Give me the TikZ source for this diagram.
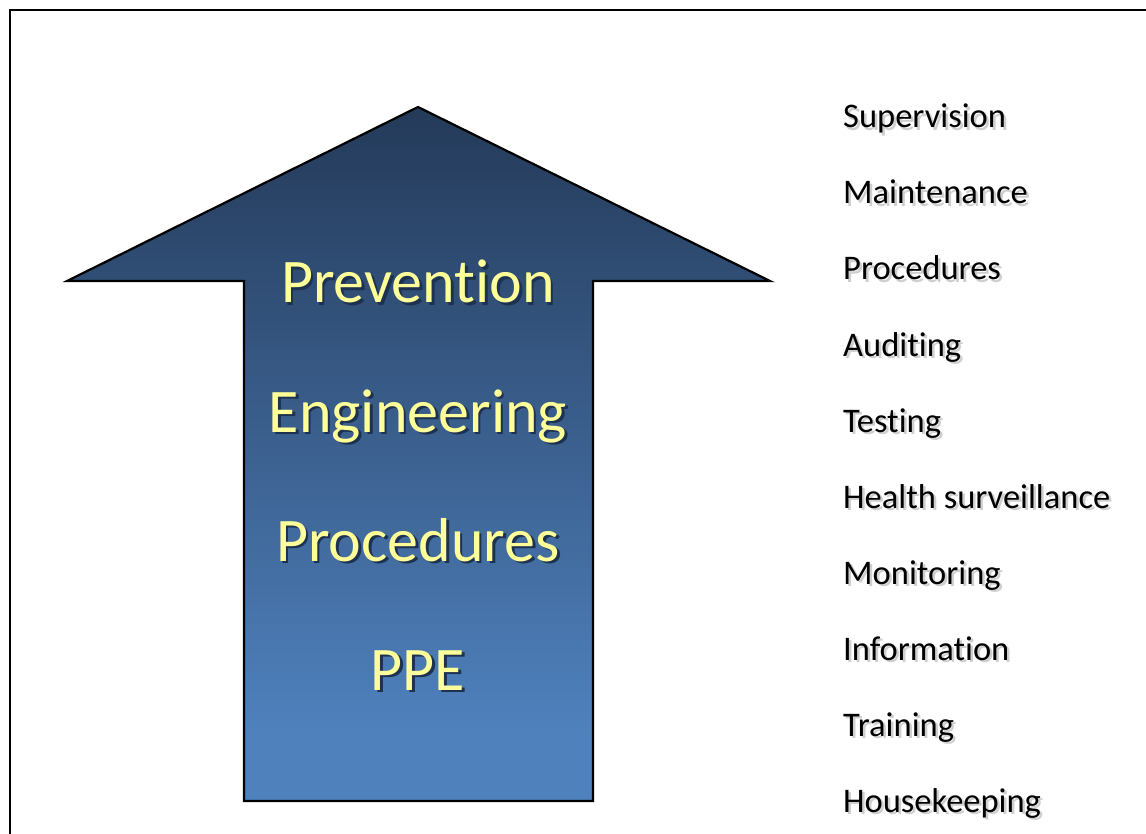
\documentclass[tikz,border=0pt]{standalone}
\usepackage{fontspec}
\setmainfont{Carlito}[Ligatures=NoCommon,RawFeature={-liga;-clig;-calt}]
\definecolor{arrowtop}{HTML}{243A59}
\definecolor{arrowbot}{HTML}{4F81BD}
\definecolor{labelyellow}{HTML}{FFFF99}
\definecolor{bigshadowc}{HTML}{1D3150}
\definecolor{listshadowc}{HTML}{CFCFCF}
\newcommand{\shadowtext}[2]{\rlap{\kern2.5pt\raisebox{-2.5pt}{\color{#1}#2}}#2}
\pgfdeclareverticalshading{arrowshade}{100bp}{color(0bp)=(arrowbot); color(30bp)=(arrowbot); color(75bp)=(arrowtop); color(100bp)=(arrowtop)}
\tikzset{
  bigtxt/.style={anchor=base, inner sep=0pt, text=labelyellow, font=\fontsize{62}{70}\selectfont},
  listtxt/.style={anchor=base west, inner sep=0pt, text=black, font=\fontsize{34.5}{40}\selectfont},
  frame/.style={line width=2pt, draw=black},
  arrowline/.style={line width=2.2pt, draw=black, line join=miter}
}
\begin{document}
\begin{tikzpicture}[x=1pt,y=-1pt]
\useasboundingbox[fill=white] (0,0) rectangle (1146,834);
% frame
\coordinate (fbl) at (10,834);
\coordinate (ftl) at (10,10);
\coordinate (ftr) at (1146,10);
\draw[frame] (fbl) -- (ftl) -- (ftr);
% arrow
\coordinate (tip) at (418,107);
\coordinate (hl) at (67,281);
\coordinate (hr) at (770,281);
\coordinate (sl) at (244,281);
\coordinate (sr) at (593,281);
\coordinate (bl) at (244,801);
\coordinate (br) at (593,801);
\shade[shading=arrowshade] (tip) -- (hr) -- (sr) -- (br) -- (bl) -- (sl) -- (hl) -- cycle;
\draw[arrowline] (tip) -- (hr) -- (sr) -- (br) -- (bl) -- (sl) -- (hl) -- cycle;
% arrow labels
\foreach \t/\yy/\n in {Prevention/303/prev, Engineering/432/eng, Procedures/561/proc, PPE/690/ppe}{
  \node[bigtxt] (\n) at (418,\yy) {\shadowtext{bigshadowc}{\t}};
}
% list
\foreach \t/\yy/\n in {Supervision/128/l1, Maintenance/204/l2, Procedures/280/l3, Auditing/356/l4, Testing/432/l5, Health surveillance/508/l6, Monitoring/584/l7, Information/660/l8, Training/736/l9, Housekeeping/812/l10}{
  \node[listtxt] (\n) at (843,\yy) {\shadowtext{listshadowc}{\t}};
}
\end{tikzpicture}
\end{document}
